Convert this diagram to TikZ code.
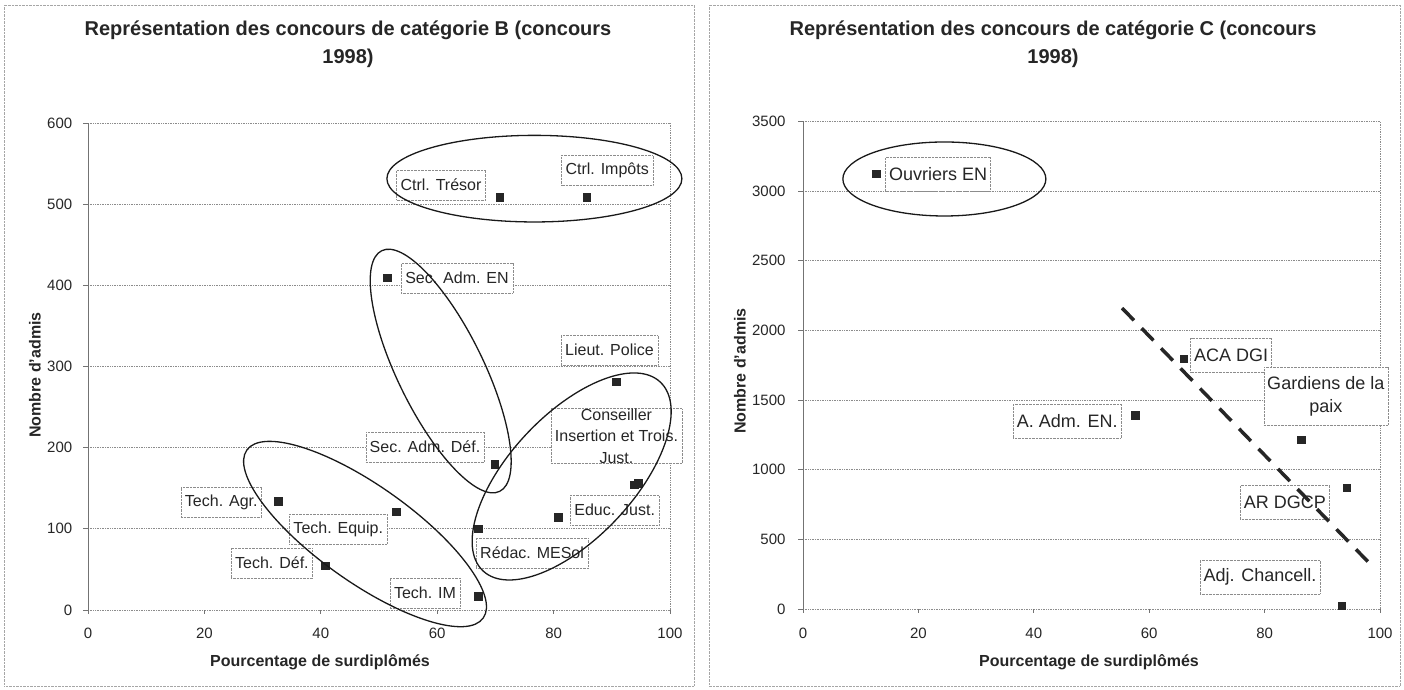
\documentclass[tikz,border=0pt]{standalone}
\usepackage{fontspec}
\setmainfont{Liberation Sans}
\usepackage{tikz}
\usetikzlibrary{shapes.geometric}

\begin{document}
\begin{tikzpicture}[x=1pt, y=1pt,
    panel/.style={draw=black!35, densely dotted},
    gridline/.style={draw=black!45, densely dotted, line width=0.7pt},
    axisline/.style={draw=black!55, line width=0.7pt},
    charttitle/.style={font=\fontsize{20}{27.7}\selectfont\bfseries, align=center, text=black!85},
    axistitle/.style={font=\fontsize{16}{19}\selectfont\bfseries, text=black!85},
    ticklabel/.style={font=\fontsize{15}{18}\selectfont, text=black!85},
    marker/.style={rectangle, fill=black!85, minimum size=8.5pt, inner sep=0pt},
    tag/.style={draw=black!45, densely dotted, fill=white, text=black!85,
        font=\fontsize{16}{21.5}\selectfont, align=center,
        inner xsep=4pt, inner ysep=0pt, minimum height=30pt},
    bigtag/.style={tag, font=\fontsize{18}{23}\selectfont, inner xsep=3.5pt, minimum height=34pt},
    group/.style={ellipse, draw=black!90, line width=1.3pt, inner sep=0pt},
    trend/.style={draw=black!85, line width=3.5pt, dash pattern=on 17pt off 11pt}]

    \useasboundingbox (0,0) rectangle (1404,689);
    % \draw[help lines, step=50] (0,0) grid (1404,689);

    \draw[panel] (4,3) rectangle (694,684);
    \draw[panel] (709,3) rectangle (1400,684);

    \node[charttitle] (titleB) at (348,645) {Représentation des concours de catégorie B (concours\\1998)};
    \node[charttitle] (titleC) at (1053,645) {Représentation des concours de catégorie C (concours\\1998)};

    \node[axistitle] (xtitleB) at (320,27) {Pourcentage de surdiplômés};
    \node[axistitle, rotate=90] (ytitleB) at (35,314) {Nombre d'admis};
    \node[axistitle] (xtitleC) at (1089,27) {Pourcentage de surdiplômés};
    \node[axistitle, rotate=90] (ytitleC) at (740,318) {Nombre d'admis};

    % categorie B
    \begin{scope}[shift={(88,79)}, x=5.82pt, y=0.8117pt]
        \foreach \y in {0,100,...,600} {
            \draw[gridline] (0,\y) -- (100,\y);
            \draw[axisline] (0,\y) -- ++(-5pt,0);
            \node[ticklabel, anchor=east] (ytickB\y) at (-2.1,\y) {\y};
        }
        \foreach \x in {0,20,...,100} {
            \draw[axisline] (\x,0) -- ++(0,-4pt);
            \node[ticklabel] (xtickB\x) at (\x,-28.3) {\x};
        }
        \draw[axisline] (0,0) -- (0,600);
        \draw[gridline] (100,0) -- (100,600);

        \node[tag] (ctrltresorlbl) at (60.65,523.6) {Ctrl. Trésor};
        \node[tag] (ctrlimpotslbl) at (89.2,542) {Ctrl. Impôts};
        \node[tag] (secadmenlbl) at (63.4,409) {Sec. Adm. EN};
        \node[tag] (lieutpolicelbl) at (89.6,320) {Lieut. Police};
        \node[tag] (conseillerlbl) at (90.8,214.4) {Conseiller\\Insertion et Trois.\\Just.};
        \node[tag] (educjustlbl) at (90.5,123) {Educ. Just.};
        \node[tag] (redaclbl) at (76.3,70) {Rédac. MESol};
        \node[tag] (secadmdeflbl) at (57.9,200.8) {Sec. Adm. Déf.};
        \node[tag] (techagrlbl) at (22.9,133) {Tech. Agr.};
        \node[tag] (techequiplbl) at (43,99.8) {Tech. Equip.};
        \node[tag] (techdeflbl) at (31.6,58) {Tech. Déf.};
        \node[tag] (techimlbl) at (57.9,21) {Tech. IM};

        \node[marker] (ctrltresor) at (70.8,508) {};
        \node[marker] (ctrlimpots) at (85.7,508) {};
        \node[marker] (secadmen) at (51.5,409) {};
        \node[marker] (lieutpolice) at (90.8,281) {};
        \node[marker] (conseillera) at (93.9,154) {};
        \node[marker] (conseillerb) at (94.6,156) {};
        \node[marker] (educjust) at (80.8,114) {};
        \node[marker] (redac) at (67.1,100) {};
        \node[marker] (secadmdef) at (69.9,179.5) {};
        \node[marker] (techagr) at (32.7,133.4) {};
        \node[marker] (techequip) at (53,121) {};
        \node[marker] (techdef) at (40.8,54) {};
        \node[marker] (techim) at (67.1,16.4) {};

        \node[group, minimum width=295pt, minimum height=86.6pt] (grpctrl) at (76.7,531.4) {};
        \node[group, minimum width=268pt, minimum height=86pt, rotate=-63.9] (grpsec) at (60.6,294.4) {};
        \node[group, minimum width=290pt, minimum height=96pt, rotate=-35.4] (grptech) at (47.6,93.6) {};
        \node[group, minimum width=259pt, minimum height=124pt, rotate=46.8] (grpjust) at (83.1,164.5) {};
    \end{scope}

    % categorie C
    \begin{scope}[shift={(803,80)}, x=5.77pt, y=0.1393pt]
        \foreach \y in {0,500,...,3500} {
            \draw[gridline] (0,\y) -- (100,\y);
            \draw[axisline] (0,\y) -- ++(-5pt,0);
            \node[ticklabel, anchor=east] (ytickC\y) at (-2.43,\y) {\y};
        }
        \foreach \x in {0,20,...,100} {
            \draw[axisline] (\x,0) -- ++(0,-4pt);
            \node[ticklabel] (xtickC\x) at (\x,-172) {\x};
        }
        \draw[axisline] (0,0) -- (0,3500);
        \draw[gridline] (100,0) -- (100,3500);

        \node[bigtag] (ouvrierslbl) at (23.4,3123) {Ouvriers EN};
        \node[bigtag] (acadgilbl) at (74.2,1823) {ACA DGI};
        \node[bigtag] (aadmenlbl) at (45.8,1350) {A. Adm. EN.};
        \node[bigtag, minimum height=58pt] (gardienslbl) at (90.6,1529) {Gardiens de la\\paix};
        \node[bigtag] (ardgcplbl) at (83.5,768) {AR DGCP};
        \node[bigtag] (adjchancelllbl) at (79.2,230) {Adj. Chancell.};

        \node[marker] (ouvriers) at (12.7,3123) {};
        \node[marker] (acadgi) at (66,1795) {};
        \node[marker] (aadmen) at (57.6,1388) {};
        \node[marker] (gardiens) at (86.4,1213) {};
        \node[marker] (ardgcp) at (94.3,868) {};
        \node[marker] (adjchancell) at (93.4,21) {};

        \node[group, minimum width=203pt, minimum height=74pt] (grpouvriers) at (24.5,3087) {};

        \coordinate (trendstart) at (55.3,2160);
        \coordinate (trendend) at (98.3,323);
        \draw[trend] (trendstart) -- (trendend);
    \end{scope}
\end{tikzpicture}
\end{document}
